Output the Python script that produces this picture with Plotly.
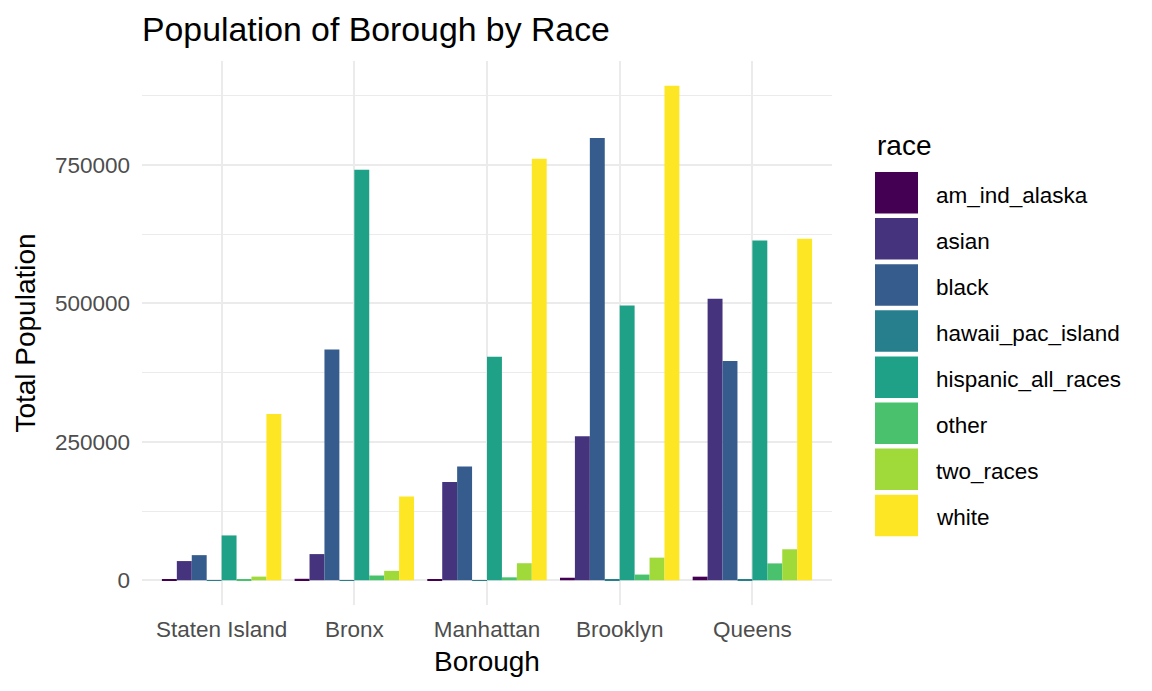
import plotly.graph_objects as go

boroughs = ["Staten Island", "Bronx", "Manhattan", "Brooklyn", "Queens"]
races = ["am_ind_alaska", "asian", "black", "hawaii_pac_island",
         "hispanic_all_races", "other", "two_races", "white"]

am_ind_alaska = [700, 2700, 1500, 4600, 6500]
asian = [34700, 47300, 177600, 260100, 508300]
black = [45400, 416700, 205300, 799100, 395900]
hawaii_pac_island = [100, 400, 300, 600, 1100]
hispanic_all_races = [81000, 741400, 403600, 496300, 613800]
other = [1000, 8600, 5300, 10300, 30500]
two_races = [6600, 17000, 30800, 40900, 56000]
white = [300200, 151200, 761500, 893300, 616700]

series = [am_ind_alaska, asian, black, hawaii_pac_island,
          hispanic_all_races, other, two_races, white]
colors = ["#440154", "#46337E", "#365C8D", "#277F8E",
          "#1FA187", "#4AC16D", "#9FDA3A", "#FDE725"]

FONT = "Liberation Sans, Arial, sans-serif"
W, H = 1152, 691
L, R, T, B = 142, 320, 61, 86
PW, PH = W - L - R, H - T - B

fig = go.Figure()
for name, vals, col in zip(races, series, colors):
    fig.add_trace(go.Bar(x=boroughs, y=vals, name=name, marker_color=col,
                         marker_line_width=0, showlegend=False))

ymax = max(max(s) for s in series)
yrange = [-0.05 * ymax, 1.05 * ymax]

fig.update_layout(
    width=W, height=H,
    margin=dict(l=L, r=R, t=T, b=B, autoexpand=False),
    paper_bgcolor="white", plot_bgcolor="white",
    barmode="group", bargap=0.1, bargroupgap=0,
    font=dict(family=FONT, color="black"),
    title=dict(text="Population of Borough by Race", x=L / W, xref="container",
               xanchor="left", y=1 - 29 / H, yref="container", yanchor="middle",
               font=dict(size=33.8, color="black", family=FONT)),
    xaxis=dict(type="category", range=[-0.6, 4.6], showgrid=True,
               gridcolor="#EBEBEB", gridwidth=1.8, zeroline=False,
               showline=False, ticks="", ticklabelstandoff=8,
               tickfont=dict(size=22.5, color="#4D4D4D", family=FONT),
               title=dict(text="Borough", standoff=10,
                          font=dict(size=28, color="black", family=FONT))),
    yaxis=dict(range=yrange, tick0=0, dtick=250000, showgrid=True,
               gridcolor="#EBEBEB", gridwidth=1.8, zeroline=False,
               showline=False, ticks="", ticklabelstandoff=11,
               tickformat="d",
               minor=dict(dtick=125000, tick0=0, showgrid=True,
                          gridcolor="#EBEBEB", gridwidth=1),
               tickfont=dict(size=22.5, color="#4D4D4D", family=FONT),
               title=dict(text="Total Population", standoff=11,
                          font=dict(size=28, color="black", family=FONT))),
)

# ggplot-style legend with large keys
def px(x):
    return (x - L) / PW

def py(y):
    return (T + PH - y) / PH

fig.add_annotation(text="race", x=px(875), y=py(145), xref="paper", yref="paper",
                   xanchor="left", yanchor="middle", showarrow=False,
                   font=dict(size=28, color="black", family=FONT))
for i, (name, col) in enumerate(zip(races, colors)):
    top = 172 + 46.1 * i
    bot = top + 41.5
    fig.add_shape(type="rect", xref="paper", yref="paper",
                  x0=px(875), x1=px(918), y0=py(bot), y1=py(top),
                  fillcolor=col, line_width=0)
    fig.add_annotation(text=name, x=px(934), y=py((top + bot) / 2 + 2.5),
                       xref="paper", yref="paper", xanchor="left",
                       yanchor="middle", showarrow=False,
                       font=dict(size=22.5, color="black", family=FONT))

fig.write_html("out.html")
